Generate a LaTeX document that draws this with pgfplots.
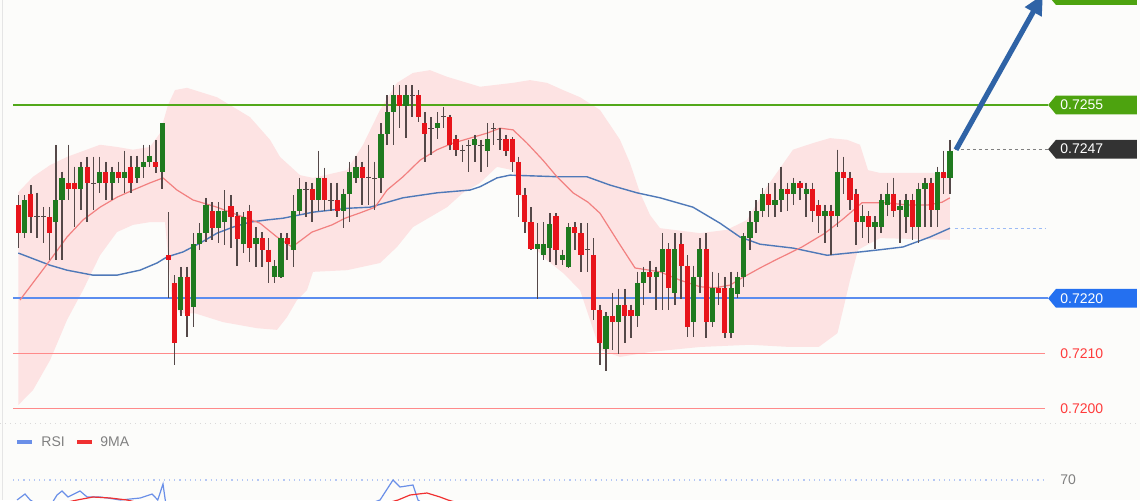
\documentclass[border=0pt]{standalone}
\usepackage{pgfplots}
\pgfplotsset{compat=1.18}
\usepackage{pgfplotstable}
\usetikzlibrary{arrows.meta}
\usepackage{fontspec}
\setmainfont{Liberation Sans}

\definecolor{bg}{HTML}{FCFCFA}
\definecolor{upc}{HTML}{1F7A1F}
\definecolor{dnc}{HTML}{E8141B}
\definecolor{wick}{HTML}{544848}
\definecolor{band}{HTML}{FDE3E3}
\definecolor{maRed}{HTML}{F28080}
\definecolor{maBlue}{HTML}{4F79B8}
\definecolor{resG}{HTML}{52A81A}
\definecolor{supB}{HTML}{5B8DEF}
\definecolor{lvlR}{HTML}{FF8A8A}
\definecolor{tagG}{HTML}{4DA30F}
\definecolor{tagK}{HTML}{333333}
\definecolor{tagB}{HTML}{2470F0}
\definecolor{arrowc}{HTML}{2F63A6}
\definecolor{txtR}{HTML}{FF3B3B}
\definecolor{txtG}{HTML}{808080}
\definecolor{rsiB}{HTML}{6A8FE8}
\definecolor{rsiR}{HTML}{F03030}

% candles: index, open, high, low, close
\pgfplotstableread{
i o h l c
1 0.72318 0.72387 0.72309 0.72378
6 0.72338 0.72478 0.72269 0.72378
7 0.72378 0.72429 0.72269 0.72418
10 0.72398 0.72447 0.72360 0.72438
13 0.72409 0.72456 0.72391 0.72429
15 0.72409 0.72438 0.72378 0.72429
17 0.72418 0.72467 0.72391 0.72429
19 0.72418 0.72458 0.72409 0.72438
20 0.72438 0.72478 0.72418 0.72447
21 0.72447 0.72478 0.72438 0.72458
23 0.72429 0.72517 0.72398 0.72517
26 0.72179 0.72257 0.72168 0.72239
28 0.72184 0.72318 0.72148 0.72298
29 0.72298 0.72336 0.72288 0.72318
30 0.72318 0.72382 0.72302 0.72369
32 0.72327 0.72374 0.72300 0.72358
33 0.72338 0.72396 0.72297 0.72358
36 0.72298 0.72356 0.72282 0.72347
38 0.72298 0.72329 0.72257 0.72309
41 0.72239 0.72269 0.72228 0.72259
42 0.72239 0.72318 0.72237 0.72309
44 0.72288 0.72387 0.72257 0.72358
45 0.72358 0.72418 0.72351 0.72398
48 0.72378 0.72467 0.72358 0.72418
52 0.72358 0.72398 0.72327 0.72389
53 0.72389 0.72447 0.72338 0.72429
54 0.72418 0.72458 0.72409 0.72438
58 0.72418 0.72517 0.72391 0.72497
59 0.72497 0.72568 0.72478 0.72537
60 0.72537 0.72586 0.72478 0.72568
62 0.72548 0.72586 0.72490 0.72568
67 0.72508 0.72537 0.72488 0.72517
73 0.72478 0.72496 0.72447 0.72488
75 0.72467 0.72517 0.72438 0.72488
83 0.72289 0.72336 0.72199 0.72298
84 0.72278 0.72338 0.72269 0.72298
85 0.72291 0.72354 0.72266 0.72335
87 0.72269 0.72288 0.72260 0.72278
88 0.72257 0.72336 0.72255 0.72329
94 0.72108 0.72175 0.72068 0.72168
96 0.72157 0.72217 0.72099 0.72188
99 0.72168 0.72248 0.72148 0.72228
100 0.72228 0.72257 0.72188 0.72248
102 0.72239 0.72257 0.72179 0.72248
103 0.72248 0.72318 0.72179 0.72289
105 0.72210 0.72318 0.72188 0.72289
108 0.72157 0.72259 0.72130 0.72239
109 0.72239 0.72309 0.72210 0.72289
111 0.72157 0.72248 0.72148 0.72219
114 0.72137 0.72248 0.72128 0.72219
115 0.72208 0.72248 0.72201 0.72239
116 0.72239 0.72318 0.72221 0.72313
117 0.72309 0.72358 0.72288 0.72338
118 0.72338 0.72378 0.72318 0.72358
119 0.72358 0.72400 0.72347 0.72389
121 0.72369 0.72409 0.72347 0.72378
122 0.72378 0.72438 0.72356 0.72398
124 0.72389 0.72418 0.72369 0.72409
126 0.72389 0.72409 0.72347 0.72398
129 0.72349 0.72369 0.72300 0.72358
131 0.72349 0.72469 0.72329 0.72429
135 0.72338 0.72369 0.72309 0.72349
137 0.72329 0.72349 0.72289 0.72338
138 0.72329 0.72389 0.72318 0.72378
139 0.72369 0.72409 0.72349 0.72389
141 0.72360 0.72378 0.72300 0.72367
142 0.72347 0.72389 0.72318 0.72378
144 0.72329 0.72409 0.72300 0.72398
145 0.72398 0.72418 0.72329 0.72409
147 0.72360 0.72438 0.72329 0.72429
149 0.72418 0.72487 0.72389 0.72467
}\upT

\pgfplotstableread{
i o h l c
0 0.72369 0.72387 0.72291 0.72318
2 0.72389 0.72405 0.72318 0.72347
5 0.72347 0.72365 0.72269 0.72318
8 0.72409 0.72478 0.72378 0.72398
9 0.72409 0.72438 0.72329 0.72398
11 0.72438 0.72456 0.72338 0.72409
14 0.72429 0.72447 0.72378 0.72409
16 0.72429 0.72447 0.72409 0.72418
18 0.72438 0.72458 0.72391 0.72409
22 0.72447 0.72487 0.72427 0.72438
24 0.72278 0.72356 0.72201 0.72269
25 0.72228 0.72242 0.72079 0.72119
27 0.72239 0.72257 0.72130 0.72168
31 0.72358 0.72374 0.72306 0.72327
34 0.72367 0.72387 0.72291 0.72347
35 0.72349 0.72356 0.72259 0.72307
37 0.72358 0.72369 0.72266 0.72291
39 0.72309 0.72320 0.72257 0.72288
40 0.72288 0.72309 0.72228 0.72266
43 0.72309 0.72318 0.72269 0.72298
47 0.72398 0.72409 0.72338 0.72378
49 0.72418 0.72436 0.72358 0.72378
51 0.72378 0.72409 0.72347 0.72358
55 0.72438 0.72447 0.72369 0.72418
61 0.72568 0.72586 0.72508 0.72548
64 0.72568 0.72577 0.72519 0.72528
65 0.72517 0.72537 0.72447 0.72497
69 0.72528 0.72532 0.72469 0.72478
70 0.72488 0.72496 0.72458 0.72469
78 0.72488 0.72496 0.72458 0.72467
79 0.72488 0.72492 0.72429 0.72447
80 0.72447 0.72456 0.72347 0.72387
81 0.72387 0.72400 0.72318 0.72338
82 0.72338 0.72365 0.72288 0.72289
86 0.72349 0.72354 0.72260 0.72288
89 0.72329 0.72338 0.72288 0.72318
90 0.72318 0.72336 0.72248 0.72278
92 0.72278 0.72309 0.72161 0.72179
93 0.72179 0.72188 0.72079 0.72119
95 0.72168 0.72210 0.72106 0.72157
97 0.72188 0.72217 0.72119 0.72168
98 0.72179 0.72188 0.72128 0.72168
101 0.72248 0.72268 0.72210 0.72239
104 0.72289 0.72300 0.72179 0.72219
106 0.72298 0.72318 0.72199 0.72259
107 0.72259 0.72278 0.72130 0.72148
110 0.72289 0.72318 0.72128 0.72157
112 0.72219 0.72246 0.72188 0.72210
113 0.72219 0.72239 0.72128 0.72137
120 0.72389 0.72409 0.72347 0.72369
123 0.72398 0.72409 0.72358 0.72389
125 0.72409 0.72412 0.72378 0.72400
127 0.72398 0.72409 0.72338 0.72358
128 0.72369 0.72378 0.72318 0.72349
130 0.72358 0.72369 0.72278 0.72349
132 0.72429 0.72456 0.72389 0.72418
133 0.72418 0.72429 0.72360 0.72378
134 0.72389 0.72398 0.72297 0.72338
136 0.72349 0.72358 0.72300 0.72329
140 0.72389 0.72418 0.72347 0.72358
143 0.72378 0.72389 0.72306 0.72329
146 0.72409 0.72418 0.72329 0.72360
148 0.72429 0.72467 0.72389 0.72418
}\dnT

\pgfplotstableread{
i o h l c
3 0.72349 0.72391 0.72309 0.72347
4 0.72349 0.72365 0.72300 0.72347
12 0.72409 0.72456 0.72360 0.72407
46 0.72398 0.72411 0.72347 0.72396
50 0.72378 0.72409 0.72358 0.72376
56 0.72420 0.72478 0.72369 0.72418
57 0.72418 0.72447 0.72360 0.72416
63 0.72568 0.72586 0.72528 0.72566
66 0.72508 0.72528 0.72459 0.72506
68 0.72530 0.72546 0.72508 0.72528
71 0.72469 0.72478 0.72447 0.72467
72 0.72478 0.72487 0.72429 0.72476
74 0.72478 0.72487 0.72429 0.72476
76 0.72508 0.72517 0.72478 0.72506
77 0.72488 0.72508 0.72469 0.72486
91 0.72289 0.72336 0.72248 0.72287
}\djT

% envelope: upper edge left to right, then lower edge right to left
\pgfplotstableread{
i p
0 0.72392
2.35 0.72420
5.07 0.72441
7.79 0.72456
13.07 0.72478
15.78 0.72474
18.34 0.72469
21.06 0.72474
22.66 0.72499
23.94 0.72550
25.06 0.72577
26.98 0.72581
31.78 0.72564
37.05 0.72528
40.25 0.72487
41.85 0.72456
45.05 0.72423
47.13 0.72418
52.57 0.72432
55.13 0.72478
57.85 0.72541
60.56 0.72590
63.12 0.72608
65.84 0.72613
68.56 0.72601
73.84 0.72583
79.11 0.72590
81.83 0.72595
84.55 0.72590
87.11 0.72577
89.83 0.72564
93.03 0.72541
96.22 0.72487
97.82 0.72445
99.43 0.72391
101.02 0.72351
102.62 0.72327
109.02 0.72318
113.34 0.72324
116.54 0.72342
119.73 0.72402
123.89 0.72469
127.09 0.72481
129.81 0.72490
132.53 0.72487
134.61 0.72478
135.89 0.72432
137.81 0.72427
149 0.72427
149 0.72306
137.81 0.72309
134.29 0.72288
133.01 0.72233
131.89 0.72179
131.00 0.72137
128.00 0.72112
123.41 0.72112
117.02 0.72116
109.02 0.72112
101.02 0.72103
96.22 0.72094
93.03 0.72107
89.83 0.72215
87.11 0.72246
84.55 0.72269
81.83 0.72300
80.23 0.72391
79.11 0.72432
76.55 0.72438
73.84 0.72409
71.12 0.72391
68.56 0.72365
65.84 0.72347
63.12 0.72329
60.56 0.72293
57.85 0.72264
52.57 0.72251
47.13 0.72248
46.17 0.72215
44.57 0.72197
42.97 0.72166
41.37 0.72143
38.17 0.72146
32.74 0.72157
28.26 0.72173
25.86 0.72173
24.58 0.72197
23.46 0.72338
21.06 0.72338
18.34 0.72333
15.78 0.72320
13.07 0.72278
10.35 0.72215
7.79 0.72161
5.07 0.72088
2.35 0.72034
0 0.72007
}\bandP

\pgfplotstableread{
i p
0.27 0.72197
5.07 0.72269
7.79 0.72311
10.35 0.72342
13.07 0.72365
15.78 0.72383
18.34 0.72396
21.06 0.72409
23.14 0.72418
25.38 0.72396
27.94 0.72378
31.78 0.72365
34.34 0.72354
38.65 0.72336
41.37 0.72311
43.77 0.72293
46.97 0.72320
50.17 0.72333
52.25 0.72345
54.97 0.72356
57.05 0.72365
58.97 0.72396
61.52 0.72420
64.24 0.72450
66.96 0.72469
69.52 0.72481
72.24 0.72490
74.96 0.72499
77.04 0.72508
79.11 0.72505
81.35 0.72481
83.91 0.72450
86.15 0.72420
88.71 0.72391
91.11 0.72374
93.03 0.72354
96.22 0.72297
98.63 0.72255
102.62 0.72248
105.82 0.72233
109.02 0.72221
111.42 0.72219
113.82 0.72224
115.74 0.72237
118.62 0.72255
121.02 0.72269
125.33 0.72293
129.01 0.72318
131.73 0.72342
134.93 0.72373
138.61 0.72373
142.29 0.72369
145.49 0.72369
147.73 0.72374
149 0.72382
}\maR

\pgfplotstableread{
i p
0 0.72282
5.07 0.72260
7.79 0.72251
11.95 0.72242
15.78 0.72242
19.46 0.72251
22.18 0.72264
23.78 0.72275
26.34 0.72284
29.06 0.72300
31.78 0.72318
34.34 0.72329
37.05 0.72338
39.77 0.72342
42.33 0.72345
47.13 0.72356
52.57 0.72363
56.24 0.72365
61.52 0.72382
66.96 0.72391
72.24 0.72396
73.84 0.72402
76.55 0.72418
78.63 0.72423
86.63 0.72420
90.95 0.72420
94.63 0.72405
98.94 0.72391
102.62 0.72382
107.90 0.72365
112.22 0.72336
115.42 0.72311
118.62 0.72298
123.89 0.72291
129.33 0.72278
134.61 0.72284
137.81 0.72288
141.49 0.72293
145.80 0.72311
149 0.72327
}\maB

\pgfplotsset{
  panel/.style={scale only axis, width=570pt, xmin=-2.93, xmax=179.39,
    axis lines=none, ticks=none, clip=true},
  nomark/.style={only marks, mark=*, mark size=0pt,
    mark options={draw=none, fill=none}, forget plot},
  wicks/.style={nomark, error bars/.cd, y dir=minus,
    y explicit, error mark=none, error bar style={draw=wick, line width=0.75pt}},
  bodies/.style={nomark, error bars/.cd, y dir=minus,
    y explicit, error mark=none, error bar style={draw=#1, line width=2.6pt}},
}

\newcommand{\candles}[2]{%
  \addplot[wicks] table[x=i, y=h, y error minus expr=\thisrow{h}-\thisrow{l}] {#1};
  \addplot[bodies=#2] table[x=i, y expr={max(\thisrow{o},\thisrow{c})},
    y error minus expr={abs(\thisrow{o}-\thisrow{c})}] {#1};
}
% price tag: colour, low, high, centre
\newcommand{\pricetag}[4]{%
  \fill[#1] (axis cs:164.7,#4) -- (axis cs:165.95,#3) -- (axis cs:178.9,#3)
    -- (axis cs:178.9,#2) -- (axis cs:165.95,#2) -- cycle;
}

\begin{document}
\begin{tikzpicture}
\fill[bg] (0,0) rectangle (570pt,250pt);

% ---- price panel
\begin{axis}[panel, at={(0,38.5pt)}, anchor=south west, height=211.5pt,
  ymin=0.719744, ymax=0.7274]
  \addplot[draw=none, fill=band, forget plot] table[x=i, y=p] {\bandP};

  \addplot[resG, line width=1pt] coordinates {(-0.85,0.7255) (164.7,0.7255)};
  \addplot[supB, line width=0.9pt] coordinates {(-0.85,0.7220) (164.7,0.7220)};
  \addplot[lvlR, line width=0.6pt] coordinates {(-0.85,0.7210) (164.2,0.7210)};
  \addplot[lvlR, line width=0.6pt] coordinates {(-0.85,0.7200) (164.2,0.7200)};
  \addplot[gray, line width=0.5pt, dash pattern=on 1.5pt off 1.5pt]
    coordinates {(149.8,0.7247) (164.7,0.7247)};
  \addplot[supB!60, line width=0.5pt, dash pattern=on 1.5pt off 1.5pt]
    coordinates {(149.8,0.72327) (164.2,0.72327)};

  \addplot[maBlue, line width=0.7pt] table[x=i, y=p] {\maB};
  \addplot[maRed, line width=0.6pt] table[x=i, y=p] {\maR};

  \candles{\upT}{upc}
  \candles{\dnT}{dnc}
  \candles{\djT}{wick}

  \draw[arrowc, line width=2.6pt, -{Triangle[length=10pt,width=9pt]}]
    (axis cs:149.96,0.72469) -- (axis cs:163.87,0.72750);

  \pricetag{tagG}{0.72731}{0.72765}{0.72748}
  \pricetag{tagG}{0.72533}{0.72567}{0.7255}
  \pricetag{tagK}{0.72453}{0.72487}{0.7247}
  \pricetag{tagB}{0.72183}{0.72217}{0.7220}
  \begin{scope}[every node/.style={anchor=west, inner sep=0pt,
      font=\fontsize{7}{8}\selectfont}]
    \node[text=white] at (axis cs:166.6,0.7255) {0.7255};
    \node[text=white] at (axis cs:166.6,0.7247) {0.7247};
    \node[text=white] at (axis cs:166.6,0.7220) {0.7220};
    \node[text=txtR] at (axis cs:166.6,0.7210) {0.7210};
    \node[text=txtR] at (axis cs:166.6,0.7200) {0.7200};
  \end{scope}
  \addplot[black!10, line width=0.5pt] coordinates {(-2.61,0.71974) (-2.61,0.7274)};
\end{axis}

% ---- RSI panel
\begin{axis}[panel, at={(0,0)}, anchor=south west, height=38.5pt,
  ymin=60, ymax=98.5]
  \addplot[black!15, line width=0.5pt, dotted] coordinates {(-2.93,98.2) (179.39,98.2)};
  \addplot[black!10, line width=0.5pt] coordinates {(-2.61,60) (-2.61,98.5)};
  \addplot[rsiB!50, line width=0.6pt, dotted] coordinates {(-0.85,70) (164.2,70)};
  \addplot[rsiB, line width=0.6pt] coordinates {
    (-0.2,60) (1.07,63) (1.9,60) (3,58) (5.5,59) (6.19,62.5) (6.99,64.5)
    (7.95,61.5) (9.87,64.5) (11,61.5) (13.07,61.5) (14.7,60.8) (16.3,60)
    (19.5,61) (21.4,63) (22.3,60) (23.14,68) (23.5,60) (24.5,45) (28,40)
    (35,48) (45,52) (52,55) (56,58) (57.85,60) (59.92,70) (61.04,66.5)
    (63.12,67.5) (63.92,60) (66,55) (75,50) (82,40) (90,35) (100,42)
    (110,45) (120,52) (130,55) (140,53) (149,58)};
  \addplot[rsiR, line width=0.6pt] coordinates {
    (5,57) (9.39,60) (11.95,61.5) (14.7,61) (17.4,60) (20,58) (25,55)
    (35,50) (45,51) (55,55) (60.72,60) (62.64,62.5) (65.36,63.5)
    (67.44,61.5) (68.72,60) (72,57) (85,48) (100,40) (120,48) (149,53)};

  \draw[rsiB, line width=2.4pt] (axis cs:-0.21,89) -- (axis cs:2.19,89);
  \draw[rsiR, line width=2.4pt] (axis cs:9.39,89) -- (axis cs:11.79,89);
  \begin{scope}[every node/.style={anchor=west, inner sep=0pt,
      font=\fontsize{7}{8}\selectfont}]
    \node[text=txtG] at (axis cs:3.63,89) {RSI};
    \node[text=txtG] at (axis cs:13.07,89) {9MA};
    \node[text=txtG] at (axis cs:166.6,70) {70};
  \end{scope}
\end{axis}
\pgfresetboundingbox
\useasboundingbox (0,0) rectangle (570pt,250pt);
\end{tikzpicture}
\end{document}
